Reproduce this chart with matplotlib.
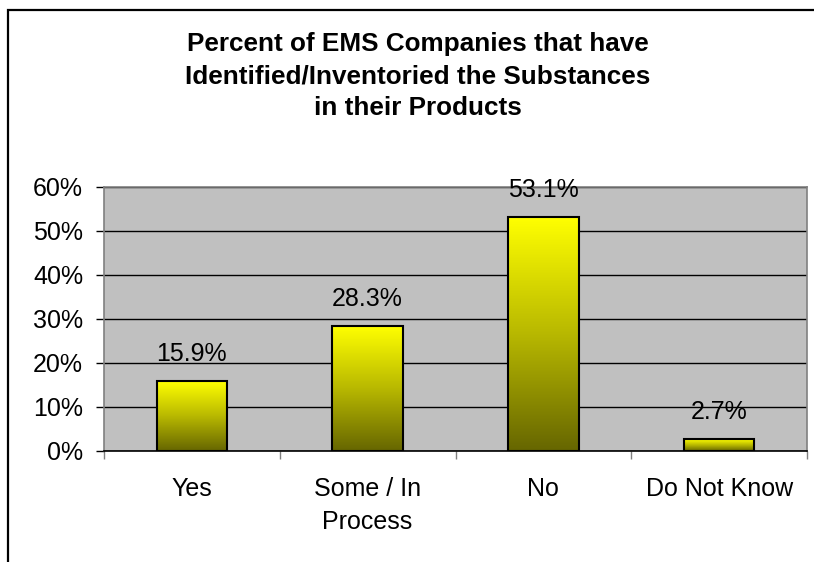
import numpy as np
import matplotlib
matplotlib.use("Agg")
import matplotlib.pyplot as plt
from matplotlib.colors import LinearSegmentedColormap
from matplotlib.patches import Rectangle

# data
categories = ["Yes", "Some / In\nProcess", "No", "Do Not Know"]
values = [15.9, 28.3, 53.1, 2.7]
value_labels = ["15.9%", "28.3%", "53.1%", "2.7%"]
y_ticks = [0, 10, 20, 30, 40, 50, 60]
y_tick_labels = ["0%", "10%", "20%", "30%", "40%", "50%", "60%"]
title = "Percent of EMS Companies that have\nIdentified/Inventoried the Substances\nin their Products"

plt.rcParams['font.family'] = ['Liberation Sans', 'DejaVu Sans']

fig = plt.figure(figsize=(8.14, 5.62), dpi=100)
fig.patch.set_facecolor("white")

# outer chart frame (cropped on right / bottom like the original)
fig.patches.append(Rectangle((7.5 / 814, -0.1), 1.2, 1.1 - 9.5 / 562,
                             transform=fig.transFigure, fill=False,
                             edgecolor="black", linewidth=1.6))

ax = fig.add_axes([104 / 814, 111 / 562, 703 / 814, 264 / 562])
ax.set_facecolor("#C0C0C0")

# yellow -> olive gradient, bottom to top
cmap = LinearSegmentedColormap.from_list("olive_yellow", ["#666600", "#B8B800", "#FFFF00"])
grad = np.linspace(0, 1, 256).reshape(-1, 1)

width = 0.4
x = np.arange(len(categories))
for xi, v, lab in zip(x, values, value_labels):
    ax.imshow(grad, extent=[xi - width / 2, xi + width / 2, 0, v], origin="lower",
              cmap=cmap, aspect="auto", zorder=3)
    ax.bar(xi, v, width=width, facecolor="none", edgecolor="black", linewidth=1.5, zorder=4)
    ax.annotate(lab, (xi, v), xytext=(0, 11), textcoords="offset points",
                ha="center", va="bottom", fontsize=18, zorder=5, annotation_clip=False)

ax.set_xlim(-0.5, len(categories) - 0.5)
ax.set_ylim(0, 60)

ax.set_yticks(y_ticks)
ax.set_yticklabels(y_tick_labels, fontsize=18)
ax.yaxis.grid(True, color="black", linewidth=1.0, zorder=1)
ax.set_axisbelow(True)
ax.tick_params(axis="y", length=6, width=1, color="black", pad=9)

# boundary ticks, labels at category centres
ax.set_xticks(np.arange(-0.5, len(categories), 1.0))
ax.set_xticklabels([])
ax.set_xticks(x, minor=True)
ax.set_xticklabels(categories, minor=True, fontsize=18, linespacing=1.45)
ax.tick_params(axis="x", which="major", length=6, width=1, color="#808080")
ax.tick_params(axis="x", which="minor", length=0, pad=19)

for side in ["left", "top", "right"]:
    ax.spines[side].set_color("#808080")
    ax.spines[side].set_linewidth(1.2)
ax.spines["bottom"].set_color("black")
ax.spines["bottom"].set_linewidth(1.2)

fig.text(418 / 814, 1 - 76 / 562, title, ha="center", va="center", fontsize=18.8,
         fontweight="bold", linespacing=1.42)

fig.savefig("out.png", dpi=100)
